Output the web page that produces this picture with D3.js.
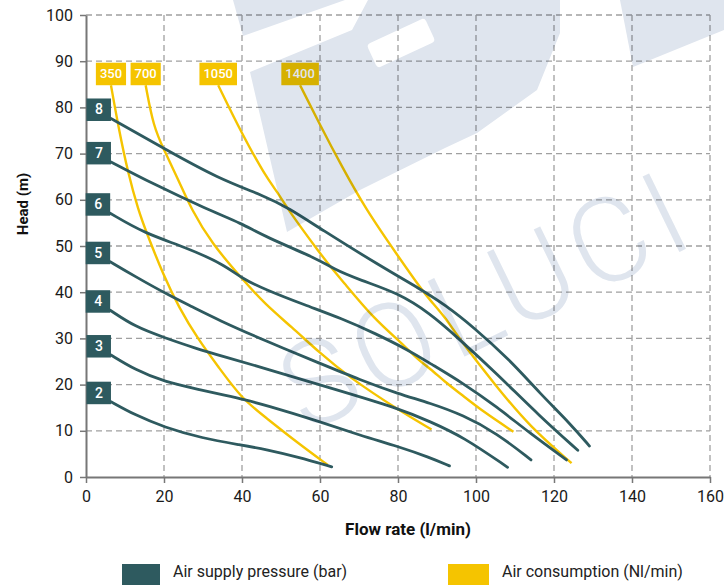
<!DOCTYPE html>
<html>
<head>
<meta charset="utf-8">
<script src="https://cdn.jsdelivr.net/npm/d3@7"></script>
<style>
  body { margin: 0; background: #fff; }
  svg { display: block; font-family: Roboto, "Liberation Sans", Arial, sans-serif; }
</style>
</head>
<body>
<svg id="chart" width="724" height="585"></svg>
<script>
// Axis ticks
const flowTicks = [0, 20, 40, 60, 80, 100, 120, 140, 160];
const headTicks = [0, 10, 20, 30, 40, 50, 60, 70, 80, 90, 100];

// Pump curves per air supply pressure (bar): [flow l/min, head m]
const pressureLabels = ["2", "3", "4", "5", "6", "7", "8"];
const pressure2 = [[6.4,16.3],[12.6,13.4],[20,10.8],[29.7,8.4],[39.9,6.9],[45.9,6],[54.4,4.3],[63,2.2]];
const pressure3 = [[6.4,26.4],[12.6,23.2],[20,20.6],[29.7,18.8],[35.6,17.7],[40.8,16.7],[45.9,15.6],[60,12],[70.3,9],[80.1,6.6],[88.2,4.2],[93.2,2.4]];
const pressure4 = [[6.2,36.1],[12.6,32.5],[20,30.2],[27.9,27.9],[35.6,26],[45.9,23.5],[63,19.2],[80.1,14.9],[88.2,12],[96.7,8.7],[108.1,2.1]];
const pressure5 = [[6.2,46.6],[12.6,43.4],[21.1,39.4],[27.1,36.9],[33.9,34],[45.9,29.5],[60,24.6],[70.3,21],[80.1,18],[88.2,16],[96.7,13.4],[105.3,9.5],[114.1,3.7]];
const pressure6 = [[6.2,57.1],[15.1,52.7],[25.4,49.8],[35.6,45.9],[39.9,43],[45.9,40.6],[56.2,37.2],[65.6,34.3],[74.1,31.1],[82.6,27.5],[88.2,24.6],[96.7,20.3],[105.3,15.2],[113.8,9.5],[123.2,3.7]];
const pressure7 = [[6.4,68.2],[16.8,63.6],[31.4,57.8],[39.9,54.9],[45.9,52],[60,47],[63,45.2],[70.3,42.6],[80.1,39.8],[88.2,35.4],[95,30.4],[105.3,22.4],[116.4,13.1],[126.1,5.8]];
const pressure8 = [[6.4,77.6],[20,71.1],[33.9,64.6],[45.9,60.8],[52,58.2],[60,53.8],[75,45.9],[86.1,40.5],[92,37.3],[99.3,32.5],[108.7,25.3],[116.4,18.1],[124.1,11.6],[129.1,6.7]];

// Iso air consumption curves (Nl/min)
const consumptionLabels = ["350", "700", "1050", "1400"];
const consumption350 = [[6.4,84.8],[8.3,75.8],[10.8,65.7],[13.4,57.8],[15.6,52.7],[20,43.4],[23.7,36.9],[28.8,29.7],[33.9,23.9],[39.9,17],[45.9,13],[54.4,7.3],[62,2.6]];
const consumption700 = [[15.3,84.8],[17.3,75.8],[20,70.8],[23.7,64.3],[27.1,57.8],[32.2,50.6],[39.9,43],[45.9,37.4],[52.7,32.5],[60,26.8],[67.3,21.7],[80.1,14.5],[88.6,10.3]];
const consumption1050 = [[33.9,84.8],[39.9,74.4],[45.9,65.3],[49.3,61.4],[51.7,58],[60,48.4],[63,45.2],[65.6,42.6],[74.1,34],[81,29],[85.2,25.3],[88.2,23.5],[92,20.6],[95.9,18.1],[101.9,14.1],[109.6,9.8]];
const consumption1400 = [[54.9,84.8],[60,76.2],[65.6,67.2],[71.7,58],[80.1,47.7],[86.1,40.5],[88.2,38.3],[92,34.7],[95.9,29.7],[105.3,19.5],[113.8,10.9],[124.5,3]];

const legendLabels = ["Air supply pressure (bar)", "Air consumption (Nl/min)"];

const pressureSeries = [pressure2, pressure3, pressure4, pressure5, pressure6, pressure7, pressure8];
const consumptionSeries = [consumption350, consumption700, consumption1050, consumption1400];

const TEAL = "#2e5a5f";
const YELLOW = "#f5c400";
const GRID = "#a0a0a0";

const svg = d3.select("#chart");
const x = d3.scaleLinear().domain([0, 160]).range([86, 710]);
const y = d3.scaleLinear().domain([0, 100]).range([477, 15]);

// Grid
const grid = svg.append("g").attr("stroke", GRID).attr("stroke-width", 1.3).attr("stroke-dasharray", "6,4");
grid.selectAll("line.v").data(flowTicks.slice(1)).join("line")
  .attr("x1", d => x(d)).attr("x2", d => x(d)).attr("y1", y(100)).attr("y2", y(0));
grid.selectAll("line.h").data(headTicks.slice(1)).join("line")
  .attr("x1", x(0)).attr("x2", x(160)).attr("y1", d => y(d)).attr("y2", d => y(d));

// Axes
const yAxis = svg.append("g").attr("transform", `translate(${x(0)},0)`)
  .call(d3.axisLeft(y).tickValues(headTicks).tickSize(6).tickSizeOuter(0).tickPadding(7));
const xAxis = svg.append("g").attr("transform", `translate(0,${y(0)})`)
  .call(d3.axisBottom(x).tickValues(flowTicks).tickSize(6).tickSizeOuter(0).tickPadding(8));
[xAxis, yAxis].forEach(g => {
  g.select(".domain").attr("stroke", "#777").attr("stroke-width", 2);
  g.selectAll(".tick line").attr("stroke", "#777").attr("stroke-width", 1.5);
  g.selectAll(".tick text").attr("fill", "#1a1a1a").attr("font-size", 16).attr("font-family", "Roboto, sans-serif");
});

// Curves
const line = d3.line().x(d => x(d[0])).y(d => y(d[1])).curve(d3.curveBasis);
svg.append("g").selectAll("path").data(consumptionSeries).join("path")
  .attr("d", line).attr("fill", "none").attr("stroke", YELLOW).attr("stroke-width", 2.4);
svg.append("g").selectAll("path").data(pressureSeries).join("path")
  .attr("d", line).attr("fill", "none").attr("stroke", TEAL).attr("stroke-width", 2.8)
  .attr("stroke-linecap", "round");

// Pressure tags at curve starts
const ptag = svg.append("g").selectAll("g").data(pressureSeries).join("g")
  .attr("transform", d => `translate(${x(d[0][0])},${y(d[0][1]) - 9})`);
ptag.append("rect").attr("x", -24.5).attr("y", -11).attr("width", 24.5).attr("height", 22.5).attr("fill", TEAL);
ptag.append("text").attr("x", -12).attr("y", 5).attr("text-anchor", "middle")
  .attr("fill", "#fff").attr("font-size", 14).attr("font-weight", 500)
  .text((d, i) => pressureLabels[i]);

// Consumption tags above curve tops
const ctag = svg.append("g").selectAll("g").data(consumptionSeries).join("g")
  .attr("transform", d => `translate(${x(d[0][0])},${y(d[0][1])})`);
ctag.each(function(d, i) {
  const g = d3.select(this);
  const t = g.append("text").attr("x", 0).attr("y", -7).attr("text-anchor", "middle")
    .attr("fill", "#fff").attr("font-size", 13).attr("font-weight", 500)
    .text(consumptionLabels[i]);
  const w = t.node().getComputedTextLength() + 8;
  g.insert("rect", "text").attr("x", -w / 2).attr("y", -22.5).attr("width", w).attr("height", 22.5).attr("fill", YELLOW);
});

// Axis titles
svg.append("text").attr("x", 408).attr("y", 535).attr("text-anchor", "middle")
  .attr("font-size", 17).attr("font-weight", 700).attr("fill", "#111").text("Flow rate (l/min)");
svg.append("text").attr("transform", "translate(28,204) rotate(-90)").attr("text-anchor", "middle")
  .attr("font-size", 15).attr("font-weight", 700).attr("fill", "#111").text("Head (m)");

// Legend
const legend = svg.append("g");
const legendPos = [[122, 38], [448, 41]];
[TEAL, YELLOW].forEach((c, i) => {
  legend.append("rect").attr("x", legendPos[i][0]).attr("y", 564).attr("width", legendPos[i][1]).attr("height", 21).attr("fill", c);
  legend.append("text").attr("x", legendPos[i][0] + legendPos[i][1] + 13).attr("y", 577)
    .attr("font-size", 16).attr("fill", "#222").text(legendLabels[i]);
});

// Brand watermark, multiplied over the chart
const wm = svg.append("g").style("mix-blend-mode", "multiply").style("pointer-events", "none");
const WM = "#dfe5ee";
wm.append("polygon").attr("fill", WM).attr("points", "233,0 345,0 243,36");
wm.append("polygon").attr("fill", WM)
  .attr("points", "250,72 352,30 368,0 560,0 560,33 537,90 477,133 445,148 360,190 287,232");
wm.append("rect").attr("x", -32).attr("y", -13).attr("width", 64).attr("height", 26).attr("rx", 4)
  .attr("fill", "#fff").attr("transform", "translate(401,43) rotate(-25)");
wm.append("polygon").attr("fill", WM).attr("points", "620,0 724,0 724,30 633,67");
wm.append("text").attr("transform", "translate(306,434) rotate(-26)")
  .attr("font-size", 118).attr("font-weight", 300).attr("fill", WM).attr("letter-spacing", 8)
  .text("SOLUCI");
</script>
</body>
</html>
